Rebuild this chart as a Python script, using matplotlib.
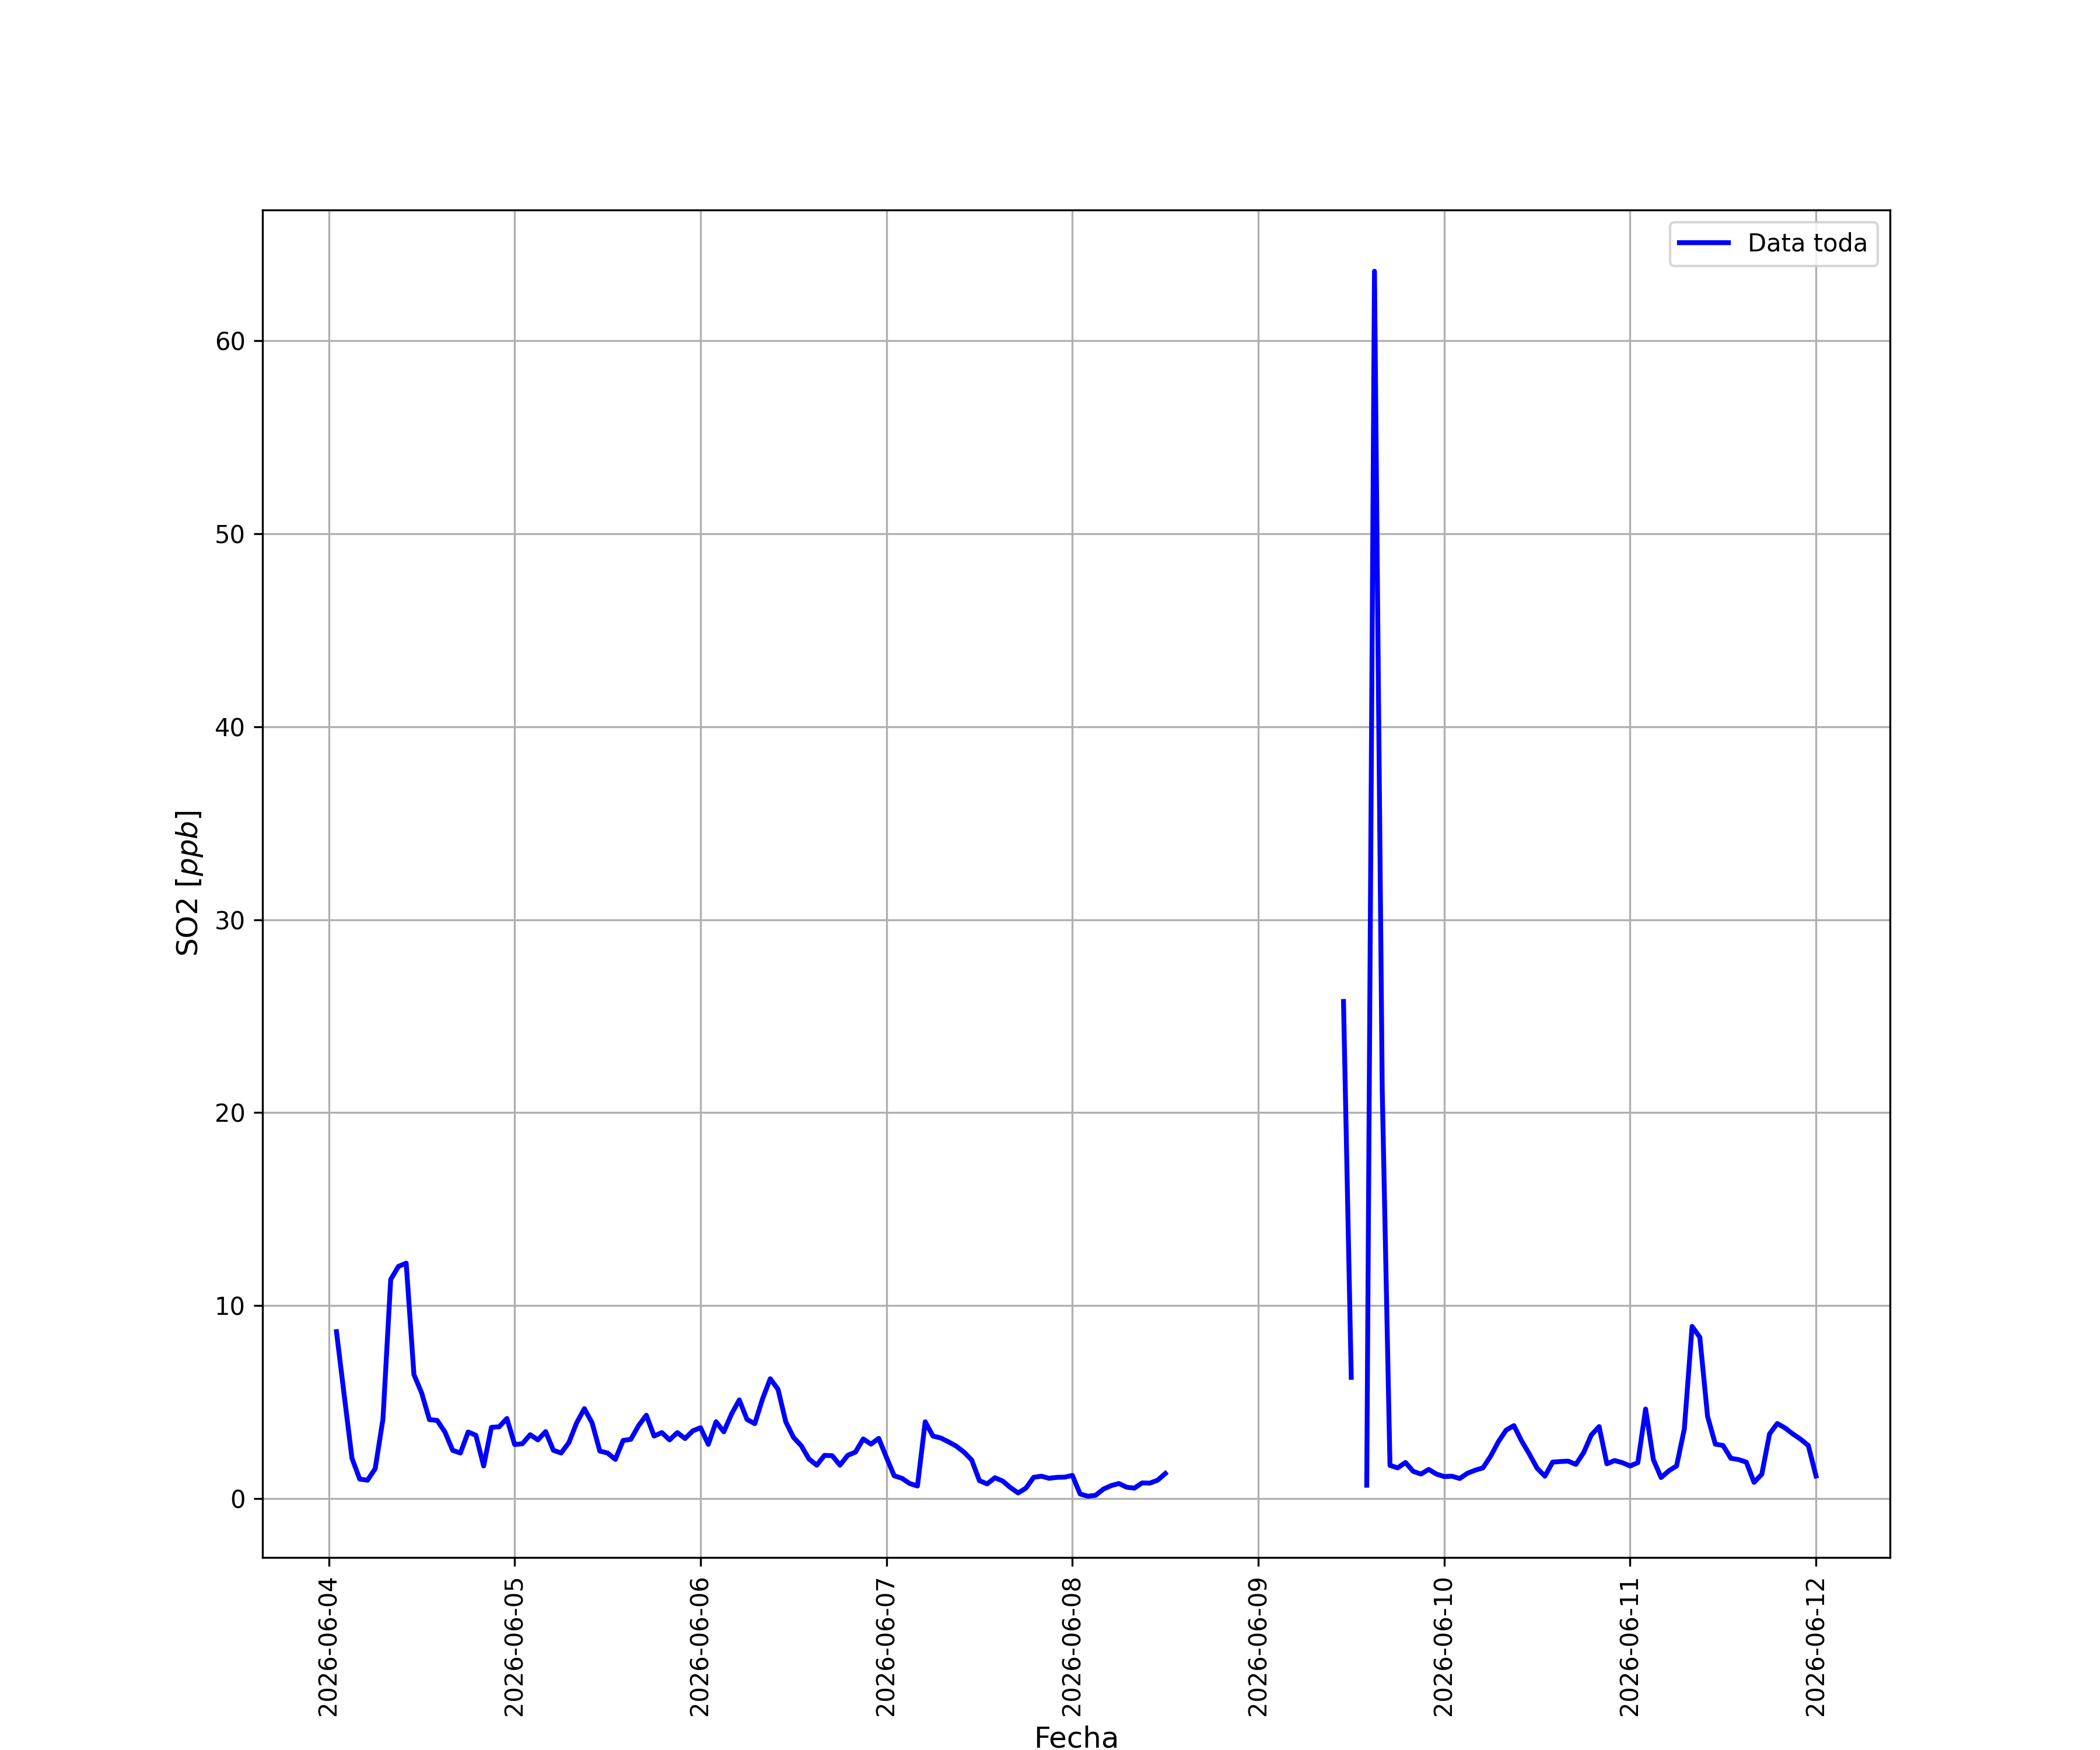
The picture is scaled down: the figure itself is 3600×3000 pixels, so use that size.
import numpy as np
import pandas as pd
import matplotlib
matplotlib.use("Agg")
import matplotlib.pyplot as plt

# hourly SO2 readings, 2026-06-04 01:00 .. 2026-06-12 00:00 (nan = no data)
so2_jun04 = [8.65, 5.35, 2.09, 1.01, 0.95, 1.55, 4.12, 11.35, 12.03, 12.2, 6.42, 5.47,
             4.09, 4.05, 3.45, 2.5, 2.36, 3.45, 3.28, 1.69, 3.69, 3.72, 4.15]
so2_jun05 = [2.8, 2.84, 3.31, 3.04, 3.47, 2.5, 2.36, 2.9, 3.92, 4.66, 3.92, 2.46,
             2.36, 2.03, 3.01, 3.07, 3.78, 4.32, 3.24, 3.42, 3.04, 3.42, 3.11, 3.51]
so2_jun06 = [3.67, 2.81, 3.98, 3.46, 4.38, 5.11, 4.10, 3.88, 5.16, 6.21, 5.66, 3.98,
             3.17, 2.74, 2.05, 1.73, 2.24, 2.22, 1.73, 2.24, 2.41, 3.09, 2.82, 3.12]
so2_jun07 = [2.13, 1.18, 1.05, 0.78, 0.65, 3.98, 3.24, 3.14, 2.94, 2.72, 2.41, 2.00,
             0.93, 0.76, 1.08, 0.91, 0.57, 0.29, 0.54, 1.10, 1.16, 1.05, 1.10, 1.11]
so2_jun08 = [1.20, 0.24, 0.12, 0.17, 0.49, 0.67, 0.78, 0.59, 0.54, 0.81, 0.80, 0.95,
             1.30] + [np.nan] * 11
so2_jun09 = [np.nan] * 11 + [25.76, 6.28, np.nan, 0.69, 63.6, 21.2, 1.72, 1.59, 1.87,
                             1.41, 1.27, 1.51, 1.27]
so2_jun10 = [1.14, 1.16, 1.04, 1.31, 1.47, 1.59, 2.20, 2.95, 3.55, 3.78, 2.98, 2.30,
             1.57, 1.16, 1.89, 1.92, 1.94, 1.77, 2.38, 3.30, 3.73, 1.80, 1.97, 1.86]
so2_jun11 = [1.69, 1.86, 4.64, 2.02, 1.09, 1.44, 1.69, 3.61, 8.92, 8.36, 4.26, 2.82,
             2.75, 2.09, 2.02, 1.89, 0.84, 1.26, 3.35, 3.89, 3.66, 3.35, 3.08, 2.75]
so2_jun12 = [1.17]

so2 = (so2_jun04 + so2_jun05 + so2_jun06 + so2_jun07 + so2_jun08 +
       so2_jun09 + so2_jun10 + so2_jun11 + so2_jun12)
fechas = pd.date_range("2026-06-04 01:00", periods=len(so2), freq="h")

fig, ax = plt.subplots(figsize=(12, 10), dpi=300)
ax.plot(fechas, so2, color="b", lw=2, label="Data toda")
ax.set_xlabel("Fecha", fontsize=12)
ax.set_ylabel("SO2 [$ppb$]", fontsize=12)
ax.grid(True)
ax.legend(loc="upper right")
plt.xticks(rotation=90)

fig.savefig("out.png", dpi=300)
